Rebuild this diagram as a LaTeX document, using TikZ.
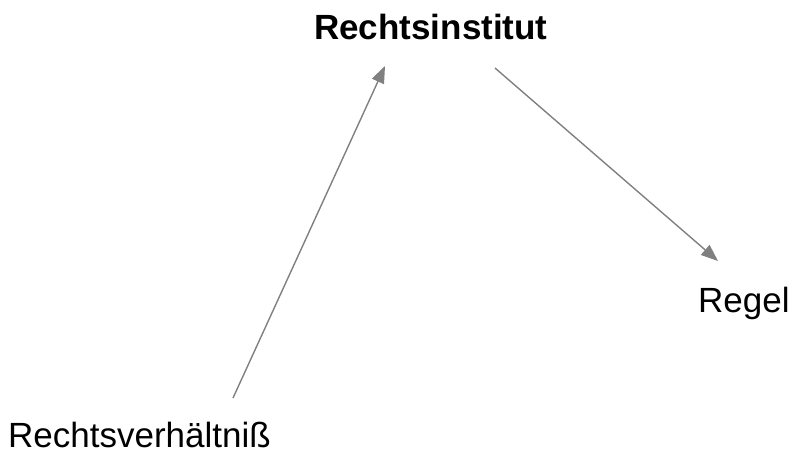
\documentclass[tikz,border=0pt]{standalone}
\usepackage{fontspec}
\setmainfont{Liberation Sans}
\usetikzlibrary{arrows.meta}
\begin{document}
\begin{tikzpicture}[x=1pt,y=-1pt,
  term/.style={inner sep=0pt, anchor=base west, font=\fontsize{35}{42}\selectfont},
  link/.style={draw={rgb,255:red,128;green,128;blue,128}, line width=1.4pt,
    -{Triangle[length=17pt,width=13pt]}}]
  \useasboundingbox (0,0) rectangle (795,458);
  \node[term, font=\fontsize{35}{42}\selectfont\bfseries] (institut) at (314,39) {Rechtsinstitut};
  \node[term] (verhaeltnis) at (8,447) {Rechtsverhältniß};
  \node[term] (regel) at (698,312) {Regel};
  \coordinate (vStart) at (233,398);
  \coordinate (iIn) at (385,66);
  \coordinate (iOut) at (495,68);
  \coordinate (rIn) at (718,261);
  \draw[link] (vStart) -- (iIn);
  \draw[link] (iOut) -- (rIn);
\end{tikzpicture}
\end{document}
